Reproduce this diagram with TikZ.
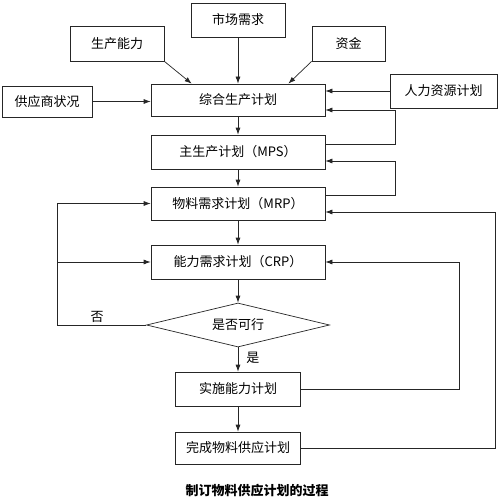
\documentclass[tikz,border=0pt]{standalone}
\usepackage{fontspec}
\setmainfont{Noto Sans CJK SC}
\usetikzlibrary{arrows.meta,shapes.geometric}
\tikzset{
  box/.style={draw=black!85, line width=0.7pt, minimum height=34pt, inner sep=0pt, font=\fontsize{13}{15}\selectfont},
  chk/.style={box, diamond, minimum width=183pt, minimum height=44pt, aspect=4.2},
  lbl/.style={inner sep=2pt, font=\fontsize{13}{15}\selectfont},
  arr/.style={draw=black!85, line width=0.7pt, -{Latex[length=7pt,width=5pt]}},
  lnk/.style={draw=black!85, line width=0.7pt}
}

\begin{document}
\begin{tikzpicture}[x=1pt,y=-1pt]
  %%%%% START %%%%%
  \useasboundingbox[fill=white] (0,0) rectangle (500,500);

  % inputs
  \node[box, minimum width=94pt] (mkt) at (238, 20) {市场需求};
  \node[box, minimum width=94pt, minimum height=35pt] (cap) at (117, 43.5) {生产能力};
  \node[box, minimum width=73pt, minimum height=35pt] (fund) at (348.5, 43.5) {资金};
  \node[box, minimum width=90pt, minimum height=31pt] (supp) at (47, 101.5) {供应商状况};
  \node[box, minimum width=107pt] (hr) at (443.5, 91) {人力资源计划};

  % main chain
  \node[box, minimum width=174pt, minimum height=32pt] (agg) at (238, 100) {综合生产计划};
  \node[box, minimum width=174pt] (mps) at (238, 152) {主生产计划（MPS）};
  \node[box, minimum width=174pt, minimum height=33pt] (mrp) at (238, 203.5) {物料需求计划（MRP）};
  \node[box, minimum width=174pt] (crp) at (238, 262) {能力需求计划（CRP）};
  \node[chk] (feas) at (238, 325) {是否可行};
  \node[box, minimum width=125pt] (impl) at (238, 389) {实施能力计划};
  \node[box, minimum width=125pt, minimum height=32pt] (done) at (238, 448) {完成物料供应计划};

  \node[font=\fontsize{13}{15}\selectfont\bfseries] (ttl) at (257, 491) {制订物料供应计划的过程};

  % into the aggregate plan
  \draw[arr] (mkt.south) -- (agg.north);
  \draw[arr] (cap.south east) -- ([xshift=41pt]agg.north west);
  \draw[arr] (fund.south west) -- ([xshift=-37pt]agg.north east);
  \draw[arr] (supp.east) -- (supp.east -| agg.west);
  \draw[arr] (hr.west) -- (hr.west -| agg.east);

  % down the chain
  \draw[arr] (agg.south) -- (mps.north);
  \draw[arr] (mps.south) -- (mrp.north);
  \draw[arr] (mrp.south) -- (crp.north);
  \draw[arr] (crp.south) -- (feas.north);
  \draw[arr] (feas.south) -- node[lbl, right, xshift=6pt, pos=.45] {是} (impl.north);
  \draw[arr] (impl.south) -- (done.north);

  % feedback on the right
  \draw[arr] ([yshift=8pt]mps.east) -- ++(70,0) |- ([yshift=-10pt]agg.east);
  \draw[arr] ([yshift=8.5pt]mrp.east) -- ++(70,0) |- ([yshift=-9pt]mps.east);
  \draw[arr] (impl.east) -- ++(158,0) |- (crp.east);
  \draw[arr] (done.east) -- ++(194,0) |- ([yshift=-8.5pt]mrp.east);

  % feedback on the left
  \draw[lnk] (feas.west) -- node[lbl, above, pos=.55] {否} ++(-89,0) coordinate (lft);
  \draw[arr] (lft) |- (mrp.west);
  \draw[arr] (lft |- crp.west) -- (crp.west);

  %%%%% END %%%%%
\end{tikzpicture}
\end{document}
